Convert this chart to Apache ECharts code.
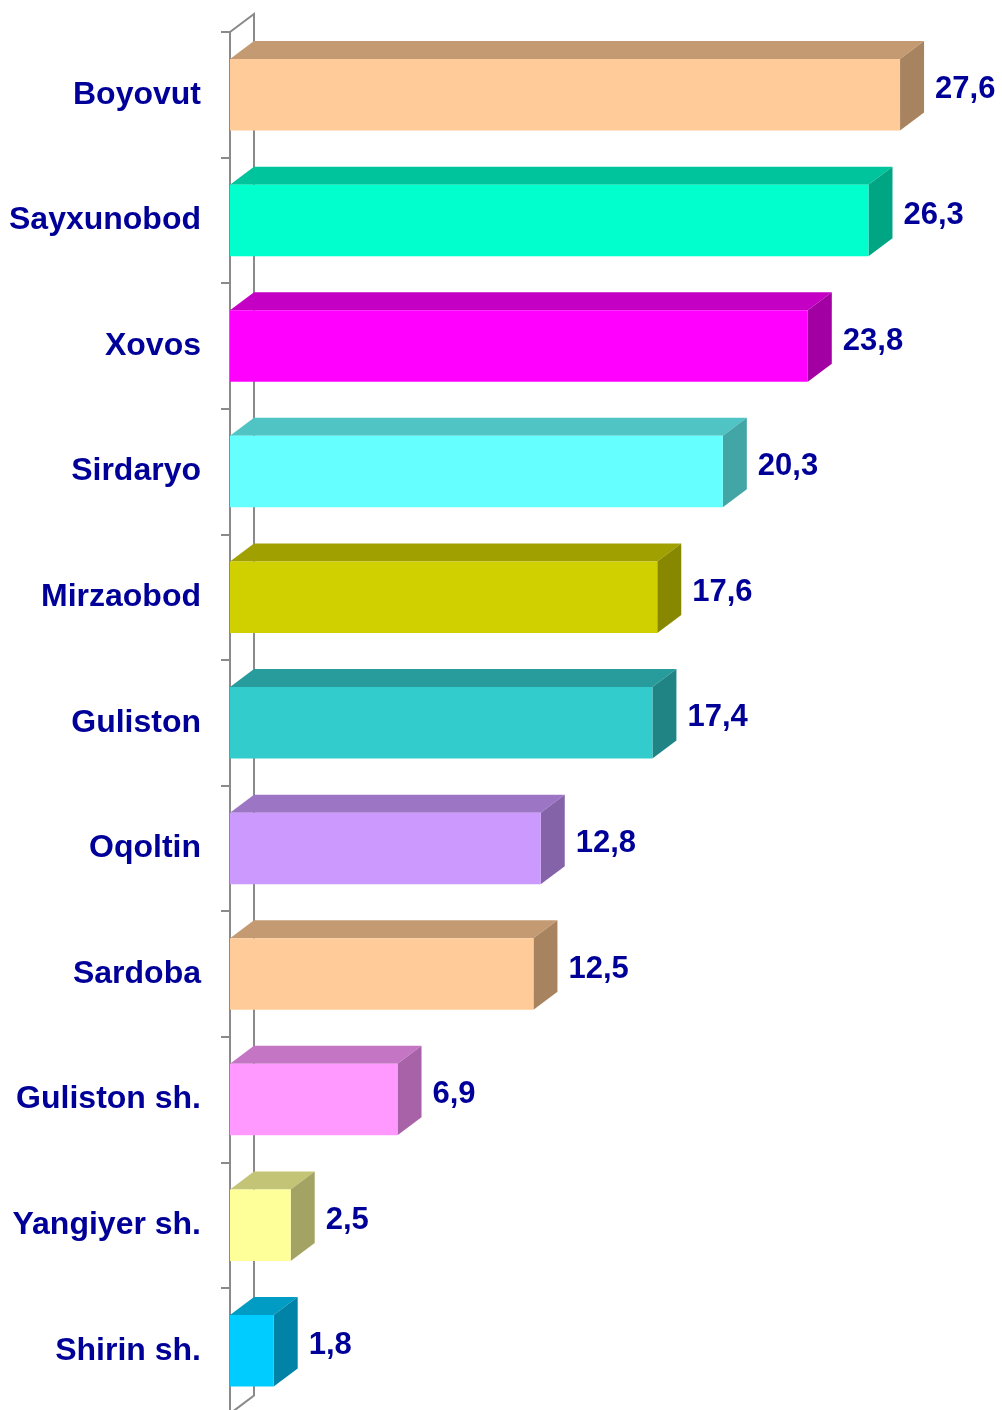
<!DOCTYPE html>
<html>
<head>
<meta charset="utf-8">
<style>
  html, body { margin: 0; padding: 0; background: #ffffff; overflow: hidden; }
  #chart { width: 1002px; height: 1416px; }
</style>
<script src="https://cdn.jsdelivr.net/npm/echarts@6/dist/echarts.min.js"></script>
</head>
<body>
<div id="chart"></div>
<script>
// District names (top to bottom) and their values
const categories = ['Boyovut', 'Sayxunobod', 'Xovos', 'Sirdaryo', 'Mirzaobod', 'Guliston',
  'Oqoltin', 'Sardoba', 'Guliston sh.', 'Yangiyer sh.', 'Shirin sh.'];
const values = [27.6, 26.3, 23.8, 20.3, 17.6, 17.4, 12.8, 12.5, 6.9, 2.5, 1.8];

// Face colours for each box: [front, top, side]
const palette = [
  ['#FFCC99', '#C49A72', '#A8835F'],
  ['#00FFCC', '#00C49C', '#00A683'],
  ['#FF00FF', '#C400C4', '#A300A3'],
  ['#66FFFF', '#50C4C4', '#42A6A6'],
  ['#D0D000', '#A0A000', '#878700'],
  ['#33CCCC', '#289C9C', '#218484'],
  ['#CC99FF', '#9C76C4', '#8463A8'],
  ['#FFCC99', '#C49A72', '#A8835F'],
  ['#FF99FF', '#C476C4', '#A863A8'],
  ['#FFFF99', '#C4C476', '#A3A363'],
  ['#00CCFF', '#009CC4', '#0083A6']
];

const FONT = 'Arial, "Liberation Sans", Helvetica, sans-serif';
const TEXT_COLOR = '#000099';
const AXIS_COLOR = '#8A8A8A';
const DEPTH_X = 24;   // 3D depth offset to the right
const DEPTH_Y = 18;   // 3D depth offset upward
const BAR_RATIO = 0.569;

const chart = echarts.init(document.getElementById('chart'));

function fmt(v) {
  return v.toFixed(1).replace('.', ',');
}

// Back wall edge of the 3D plot area
function renderWall(params, api) {
  const band = api.size([0, 1])[1];
  const first = api.coord([0, 0]);
  const last = api.coord([0, categories.length - 1]);
  const x0 = first[0];
  const top = first[1] - band / 2;
  const bottom = last[1] + band / 2;
  return {
    type: 'polyline',
    shape: {
      points: [
        [x0, top],
        [x0 + DEPTH_X, top - DEPTH_Y],
        [x0 + DEPTH_X, bottom - DEPTH_Y],
        [x0, bottom]
      ]
    },
    style: { stroke: AXIS_COLOR, lineWidth: 2, fill: null }
  };
}

// Three-faced box for each bar, plus its value label
function renderBox(params, api) {
  const idx = api.value(1);
  const val = api.value(0);
  const start = api.coord([0, idx]);
  const end = api.coord([val, idx]);
  const band = api.size([0, 1])[1];
  const h = band * BAR_RATIO;
  const x0 = start[0];
  const x1 = end[0];
  const yT = start[1] - h / 2;
  const yB = start[1] + h / 2;
  const c = palette[idx % palette.length];
  return {
    type: 'group',
    children: [
      {
        type: 'polygon',
        shape: { points: [[x0, yT], [x0 + DEPTH_X, yT - DEPTH_Y], [x1 + DEPTH_X, yT - DEPTH_Y], [x1, yT]] },
        style: { fill: c[1] }
      },
      {
        type: 'polygon',
        shape: { points: [[x1, yT], [x1 + DEPTH_X, yT - DEPTH_Y], [x1 + DEPTH_X, yB - DEPTH_Y], [x1, yB]] },
        style: { fill: c[2] }
      },
      {
        type: 'rect',
        shape: { x: x0, y: yT, width: x1 - x0, height: h },
        style: { fill: c[0] }
      },
      {
        type: 'text',
        style: {
          text: fmt(val),
          x: x1 + DEPTH_X + 11,
          y: start[1] - 5,
          fill: TEXT_COLOR,
          font: 'bold 31px ' + FONT,
          align: 'left',
          verticalAlign: 'middle'
        }
      }
    ]
  };
}

chart.setOption({
  animation: false,
  backgroundColor: '#ffffff',
  grid: { left: 230, top: 32, width: 728.3, height: 1381.6, containLabel: false },
  xAxis: {
    type: 'value', min: 0, max: 30, show: false
  },
  yAxis: {
    type: 'category',
    data: categories,
    inverse: true,
    axisLine: { show: true, lineStyle: { color: AXIS_COLOR, width: 2 } },
    axisTick: { show: true, inside: false, length: 9, lineStyle: { color: AXIS_COLOR, width: 2 } },
    axisLabel: {
      margin: 29,
      padding: [5, 0, 0, 0],
      color: TEXT_COLOR,
      fontSize: 32,
      fontWeight: 'bold',
      fontFamily: FONT
    },
    splitLine: { show: false }
  },
  series: [
    {
      type: 'custom',
      name: 'wall',
      clip: false,
      z: 1,
      silent: true,
      renderItem: renderWall,
      data: [[0, 0]]
    },
    {
      type: 'custom',
      name: 'values',
      clip: false,
      z: 3,
      renderItem: renderBox,
      encode: { x: 0, y: 1 },
      data: values.map((v, i) => [v, i])
    }
  ]
});
</script>
</body>
</html>
